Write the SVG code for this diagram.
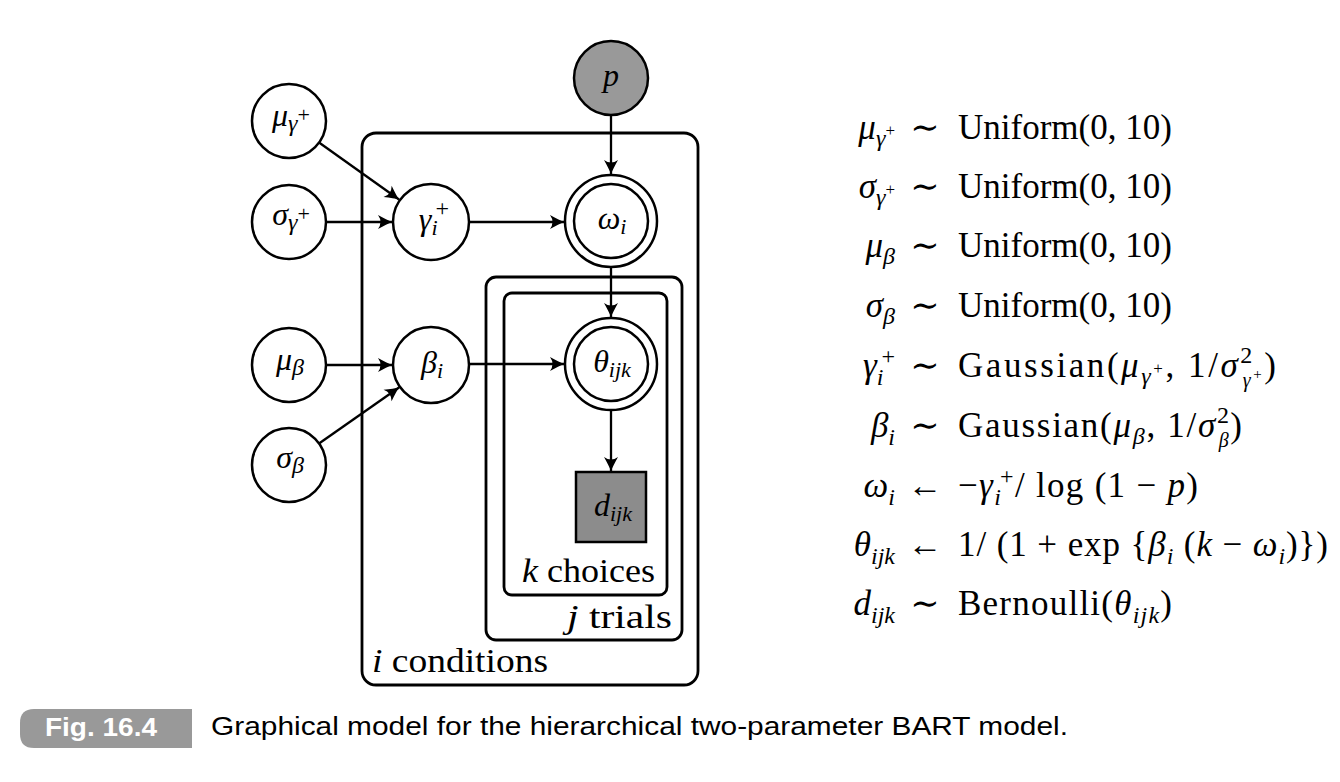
<svg xmlns="http://www.w3.org/2000/svg" width="1340" height="782" viewBox="0 0 1340 782">
<style>
  .bg { fill: #ffffff; }
  .node { fill: #ffffff; stroke: #000000; stroke-width: 2.5; }
  .obs { fill: #999999; stroke: #000000; stroke-width: 2.5; }
  .obsd { fill: #8c8c8c; stroke: #000000; stroke-width: 2.5; }
  .plate { fill: none; stroke: #000000; stroke-width: 2.8; }
  .edge { fill: none; stroke: #000000; stroke-width: 2.3; marker-end: url(#arr); }
  .t { font-family: "Liberation Serif", "DejaVu Serif", serif; fill: #000000; }
  .i { font-style: italic; }
  .n { font-style: normal; }
  .lab { font-size: 32px; }
  .plab { font-size: 33px; }
  .eq { font-size: 35px; }
  .cap { font-family: "Liberation Sans", "DejaVu Sans", sans-serif; font-size: 26px; fill: #000000; }
  .capb { font-family: "Liberation Sans", "DejaVu Sans", sans-serif; font-size: 25px; font-weight: bold; fill: #ffffff; }
</style>
<defs>
  <marker id="arr" markerUnits="userSpaceOnUse" viewBox="-15 -8 16 16" refX="0" refY="0" markerWidth="16" markerHeight="16" orient="auto">
    <path d="M0,0 Q-5,-2 -14,-7 Q-9,0 -14,7 Q-5,2 0,0 Z" fill="#000000"/>
  </marker>
</defs>
<rect class="bg" x="0" y="0" width="1340" height="782"/>

<!-- plates -->
<g id="plate-i">
  <rect class="plate" x="362" y="133" width="336" height="552" rx="14" ry="14"/>
  <text class="t plab" x="372" y="672" textLength="176" lengthAdjust="spacingAndGlyphs"><tspan class="i">i</tspan><tspan class="n"> conditions</tspan></text>
</g>
<g id="plate-j">
  <rect class="plate" x="486" y="277" width="196" height="363" rx="10" ry="10"/>
  <text class="t plab" x="567" y="628" textLength="105" lengthAdjust="spacingAndGlyphs"><tspan class="i">j</tspan><tspan class="n"> trials</tspan></text>
</g>
<g id="plate-k">
  <rect class="plate" x="504" y="293" width="163" height="302" rx="8" ry="8"/>
  <text class="t plab" x="522" y="582" textLength="133" lengthAdjust="spacingAndGlyphs"><tspan class="i">k</tspan><tspan class="n"> choices</tspan></text>
</g>

<!-- connectors -->
<g id="connectors">
  <line class="edge" x1="319" y1="142.5" x2="399" y2="199.5"/>
  <line class="edge" x1="326" y1="222" x2="392" y2="222"/>
  <line class="edge" x1="469" y1="222" x2="564" y2="222"/>
  <line class="edge" x1="611" y1="115" x2="611" y2="174"/>
  <line class="edge" x1="611" y1="267" x2="611" y2="317"/>
  <line class="edge" x1="326" y1="365" x2="392" y2="365"/>
  <line class="edge" x1="319" y1="443.5" x2="399" y2="387.5"/>
  <line class="edge" x1="469" y1="364" x2="564" y2="364"/>
  <line class="edge" x1="611" y1="410" x2="611" y2="471"/>
</g>

<!-- nodes -->
<g id="node-p">
  <circle class="obs" cx="611" cy="78" r="37"/>
  <text class="t lab i" x="611" y="86" text-anchor="middle">p</text>
</g>
<g id="node-mu-gamma">
  <circle class="node" cx="289" cy="121" r="37"/>
  <text class="t lab" x="291" y="126" text-anchor="middle"><tspan class="i">μ</tspan><tspan class="i" font-size="24" dy="5">γ</tspan><tspan font-size="22" dy="-9">+</tspan></text>
</g>
<g id="node-sigma-gamma">
  <circle class="node" cx="289" cy="222" r="37"/>
  <text class="t lab" x="291" y="225" text-anchor="middle"><tspan class="i">σ</tspan><tspan class="i" font-size="24" dy="5">γ</tspan><tspan font-size="22" dy="-9">+</tspan></text>
</g>
<g id="node-gamma">
  <circle class="node" cx="431" cy="222" r="38"/>
  <text class="t lab" x="434" y="230" text-anchor="middle"><tspan class="i">γ</tspan><tspan class="i" font-size="22" dy="5">i</tspan><tspan font-size="24" dx="-2" dy="-19">+</tspan></text>
</g>
<g id="node-omega">
  <circle class="node" cx="611" cy="221" r="46"/>
  <circle class="node" cx="611" cy="221" r="37"/>
  <text class="t lab" x="612" y="229" text-anchor="middle"><tspan class="i">ω</tspan><tspan class="i" font-size="22" dy="5">i</tspan></text>
</g>
<g id="node-mu-beta">
  <circle class="node" cx="289" cy="365" r="37"/>
  <text class="t lab" x="290" y="370" text-anchor="middle"><tspan class="i">μ</tspan><tspan class="i" font-size="24" dy="5">β</tspan></text>
</g>
<g id="node-sigma-beta">
  <circle class="node" cx="289" cy="465" r="37"/>
  <text class="t lab" x="290" y="468" text-anchor="middle"><tspan class="i">σ</tspan><tspan class="i" font-size="24" dy="5">β</tspan></text>
</g>
<g id="node-beta">
  <circle class="node" cx="431" cy="365" r="38"/>
  <text class="t lab" x="432" y="373" text-anchor="middle"><tspan class="i">β</tspan><tspan class="i" font-size="22" dy="5">i</tspan></text>
</g>
<g id="node-theta">
  <circle class="node" cx="611" cy="364" r="46"/>
  <circle class="node" cx="611" cy="364" r="37"/>
  <text class="t lab" x="612" y="372" text-anchor="middle"><tspan class="i">θ</tspan><tspan class="i" font-size="22" dy="5">ijk</tspan></text>
</g>
<g id="node-d">
  <rect class="obsd" x="576" y="472" width="70" height="70"/>
  <text class="t lab" x="613" y="516" text-anchor="middle"><tspan class="i">d</tspan><tspan class="i" font-size="22" dy="5">ijk</tspan></text>
</g>

<!-- equations -->
<g id="equations">
  <text class="t eq" x="895" y="139" text-anchor="end"><tspan class="i">μ</tspan><tspan class="i" font-size="24" dy="7">γ</tspan><tspan font-size="17" dy="-10">+</tspan></text>
  <text class="t eq" x="925" y="139" text-anchor="middle">∼</text>
  <text class="t eq" x="958" y="139">Uniform(0, 10)</text>

  <text class="t eq" x="895" y="198" text-anchor="end"><tspan class="i">σ</tspan><tspan class="i" font-size="24" dy="7">γ</tspan><tspan font-size="17" dy="-10">+</tspan></text>
  <text class="t eq" x="925" y="198" text-anchor="middle">∼</text>
  <text class="t eq" x="958" y="198">Uniform(0, 10)</text>

  <text class="t eq" x="895" y="257" text-anchor="end"><tspan class="i">μ</tspan><tspan class="i" font-size="24" dy="7">β</tspan></text>
  <text class="t eq" x="925" y="257" text-anchor="middle">∼</text>
  <text class="t eq" x="958" y="257">Uniform(0, 10)</text>

  <text class="t eq" x="895" y="317" text-anchor="end"><tspan class="i">σ</tspan><tspan class="i" font-size="24" dy="7">β</tspan></text>
  <text class="t eq" x="925" y="317" text-anchor="middle">∼</text>
  <text class="t eq" x="958" y="317">Uniform(0, 10)</text>

  <text class="t eq" x="895" y="377" text-anchor="end"><tspan class="i">γ</tspan><tspan class="i" font-size="24" dy="8">i</tspan><tspan font-size="24" dx="-2" dy="-21">+</tspan></text>
  <text class="t eq" x="925" y="377" text-anchor="middle">∼</text>
  <text class="t eq" x="958" y="377" textLength="318" lengthAdjust="spacing">Gaussian(<tspan class="i">μ</tspan><tspan class="i" font-size="24" dy="7">γ</tspan><tspan font-size="17" dy="-10">+</tspan><tspan dy="3">, 1/</tspan><tspan class="i">σ</tspan><tspan font-size="24" dy="-14">2</tspan><tspan class="i" font-size="20" dx="-12" dy="24">γ</tspan><tspan font-size="15" dy="-8">+</tspan><tspan dy="-2">)</tspan></text>

  <text class="t eq" x="895" y="437" text-anchor="end"><tspan class="i">β</tspan><tspan class="i" font-size="24" dy="8">i</tspan></text>
  <text class="t eq" x="925" y="437" text-anchor="middle">∼</text>
  <text class="t eq" x="958" y="437" textLength="284" lengthAdjust="spacing">Gaussian(<tspan class="i">μ</tspan><tspan class="i" font-size="24" dy="7">β</tspan><tspan dy="-7">, 1/</tspan><tspan class="i">σ</tspan><tspan font-size="24" dy="-14">2</tspan><tspan class="i" font-size="20" dx="-12" dy="24">β</tspan><tspan dy="-10">)</tspan></text>

  <text class="t eq" x="895" y="497" text-anchor="end"><tspan class="i">ω</tspan><tspan class="i" font-size="24" dy="8">i</tspan></text>
  <text class="t eq" x="925" y="497" text-anchor="middle">←</text>
  <text class="t eq" x="958" y="497" textLength="240" lengthAdjust="spacing">−<tspan class="i">γ</tspan><tspan class="i" font-size="24" dy="8">i</tspan><tspan font-size="24" dx="-2" dy="-21">+</tspan><tspan dy="13">/ log (1 − </tspan><tspan class="i">p</tspan>)</text>

  <text class="t eq" x="895" y="556" text-anchor="end"><tspan class="i">θ</tspan><tspan class="i" font-size="24" dy="8">ijk</tspan></text>
  <text class="t eq" x="925" y="556" text-anchor="middle">←</text>
  <text class="t eq" x="958" y="556" textLength="370" lengthAdjust="spacing">1/ (1 + exp {<tspan class="i">β</tspan><tspan class="i" font-size="24" dy="8">i</tspan><tspan dy="-8"> (</tspan><tspan class="i">k</tspan> − <tspan class="i">ω</tspan><tspan class="i" font-size="24" dy="8">i</tspan><tspan dy="-8">)})</tspan></text>

  <text class="t eq" x="895" y="615" text-anchor="end"><tspan class="i">d</tspan><tspan class="i" font-size="24" dy="8">ijk</tspan></text>
  <text class="t eq" x="925" y="615" text-anchor="middle">∼</text>
  <text class="t eq" x="958" y="615" textLength="214" lengthAdjust="spacing">Bernoulli(<tspan class="i">θ</tspan><tspan class="i" font-size="24" dy="8">ijk</tspan><tspan dy="-8">)</tspan></text>
</g>

<!-- caption -->
<g id="caption">
  <path d="M34,709 H192 V748 H34 Q20,748 20,734 V723 Q20,709 34,709 Z" fill="#999999"/>
  <text class="capb" x="45" y="736" textLength="112" lengthAdjust="spacingAndGlyphs">Fig. 16.4</text>
  <text class="cap" x="211" y="735" textLength="857" lengthAdjust="spacingAndGlyphs">Graphical model for the hierarchical two-parameter BART model.</text>
</g>
</svg>
